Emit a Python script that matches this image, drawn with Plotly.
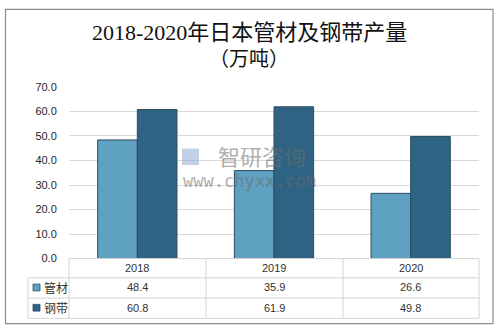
import plotly.graph_objects as go

# Production of tubes and steel strip in Japan (10k tonnes)
years = ["2018", "2019", "2020"]
series_names = ["管材", "钢带"]
tube_values = [48.4, 35.9, 26.6]
strip_values = [60.8, 61.9, 49.8]
y_ticks = [0, 10, 20, 30, 40, 50, 60, 70]

W, H = 498, 333


def px_x(p):
    return p / W


def px_y(p):
    return (H - p) / H


colors = ["#5EA1C1", "#2F6383"]
outline = "#2B4B60"

fig = go.Figure()
for name, vals, col in zip(series_names, [tube_values, strip_values], colors):
    fig.add_trace(go.Bar(
        x=years, y=vals, name=name,
        marker=dict(color=col, line=dict(color=outline, width=1)),
        showlegend=False,
    ))

plot_left, plot_right = 69, 479
plot_top, plot_bottom = 84, 262

fig.update_layout(
    width=W, height=H, autosize=False,
    margin=dict(l=0, r=0, t=0, b=0),
    paper_bgcolor="white", plot_bgcolor="white",
    barmode="group", bargap=0.42, bargroupgap=0,
    xaxis=dict(type="category", domain=[px_x(plot_left), px_x(plot_right)],
               showticklabels=False, showgrid=False, zeroline=False,
               showline=False, ticks=""),
    yaxis=dict(domain=[px_y(plot_bottom), px_y(plot_top)], range=[0, 70],
               tickvals=y_ticks, tickformat=".1f", showgrid=True,
               gridcolor="#D9D9D9", gridwidth=1, zeroline=False, showline=False,
               ticks="outside", ticklen=9, tickcolor="rgba(0,0,0,0)",
               tickfont=dict(family="Liberation Sans", size=11, color="#262626")),
    font=dict(family="Liberation Sans"),
)

shapes = []
# outer frame
shapes.append(dict(type="rect", xref="paper", yref="paper",
                   x0=px_x(5.5), x1=px_x(493), y0=px_y(329.5), y1=px_y(3.5),
                   line=dict(color="#8C8C8C", width=1.2)))

# data table grid
line_col = "#D4D4D4"
row_lines = [262, 282, 303, 324]
col_lines = [28, 69, 206, 343, 479]
for i, ry in enumerate(row_lines):
    x0 = plot_left if i == 0 else 28
    shapes.append(dict(type="line", xref="paper", yref="paper",
                       x0=px_x(x0), x1=px_x(479), y0=px_y(ry), y1=px_y(ry),
                       line=dict(color=line_col, width=1)))
for cx in col_lines:
    y0 = 282 if cx == 28 else 262
    shapes.append(dict(type="line", xref="paper", yref="paper",
                       x0=px_x(cx), x1=px_x(cx), y0=px_y(y0), y1=px_y(324),
                       line=dict(color=line_col, width=1)))

annotations = []
row_centers = [292, 313]
# legend keys in the table
for name, col, ry in zip(series_names, colors, row_centers):
    shapes.append(dict(type="rect", xref="paper", yref="paper",
                       x0=px_x(33), x1=px_x(40), y0=px_y(ry + 3.5), y1=px_y(ry - 3.5),
                       fillcolor=col, line=dict(color=outline, width=0.8)))
    annotations.append(dict(x=px_x(42), y=px_y(ry), xref="paper", yref="paper",
                            text=name, showarrow=False, xanchor="left", yanchor="middle",
                            font=dict(family="Noto Sans CJK SC", size=12, color="#333333")))

# year header and values, one column per category
n = len(years)
col_w = (plot_right - plot_left) / n
for i, yr in enumerate(years):
    cx = px_x(plot_left + col_w * (i + 0.5))
    annotations.append(dict(x=cx, y=px_y(272), xref="paper", yref="paper", text=yr,
                            showarrow=False, xanchor="center", yanchor="middle",
                            font=dict(family="Liberation Sans", size=11, color="#333333")))
    for vals, ry in zip([tube_values, strip_values], row_centers):
        annotations.append(dict(x=cx, y=px_y(ry), xref="paper", yref="paper",
                                text=f"{vals[i]:.1f}", showarrow=False,
                                xanchor="center", yanchor="middle",
                                font=dict(family="Liberation Sans", size=11, color="#333333")))

# title
annotations.append(dict(x=0.5, y=px_y(28), xref="paper", yref="paper",
                        text="2018-2020年日本管材及钢带产量", showarrow=False,
                        xanchor="center", yanchor="middle",
                        font=dict(family="Liberation Serif, Noto Sans CJK SC", size=22, color="#111111")))
annotations.append(dict(x=0.5, y=px_y(53), xref="paper", yref="paper",
                        text="（万吨）", showarrow=False,
                        xanchor="center", yanchor="middle",
                        font=dict(family="Noto Sans CJK SC", size=20, color="#111111")))

# watermark
annotations.append(dict(x=px_x(262), y=px_y(155), xref="paper", yref="paper",
                        text="智研咨询", showarrow=False, xanchor="center", yanchor="middle",
                        opacity=0.55,
                        font=dict(family="Noto Sans CJK SC", size=22, color="#6E6E6E")))
annotations.append(dict(x=px_x(249), y=px_y(182), xref="paper", yref="paper",
                        text="www.chyxx.com", showarrow=False, xanchor="center", yanchor="middle",
                        opacity=0.55,
                        font=dict(family="DejaVu Sans Mono", size=17, color="#6E6E6E")))
shapes.append(dict(type="rect", xref="paper", yref="paper",
                   x0=px_x(182), x1=px_x(199), y0=px_y(165), y1=px_y(148),
                   fillcolor="#8FA9D6", opacity=0.55, line=dict(width=0)))

fig.update_layout(shapes=shapes, annotations=annotations)
fig.write_html("out.html")
